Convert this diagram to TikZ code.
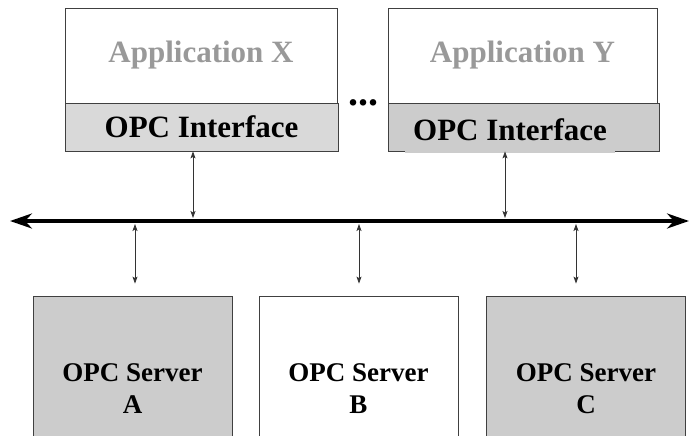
\documentclass[tikz,border=0pt]{standalone}
\usepackage{fontspec}
\setmainfont{Liberation Serif}
\usetikzlibrary{arrows,arrows.meta}
\tikzset{
  box/.style = {rectangle, draw=black!75, line width=0.8pt, inner sep=0pt},
  app/.style = {box, fill=white, text=black!40, minimum width=272pt,
    minimum height=95pt, font=\bfseries\fontsize{31}{33}\selectfont},% application, grey text
  ifc/.style = {box, minimum width=273pt, minimum height=48pt,
    font=\bfseries\fontsize{31}{33}\selectfont},% OPC interface strip
  srv/.style = {box, align=center, minimum width=199pt, minimum height=186pt,
    font=\bfseries\fontsize{27}{32}\selectfont},% OPC server box
  link/.style = {draw=black!80, line width=0.8pt},% small double arrow
  bus/.style = {line width=4pt,
    {Stealth[length=22pt,width=15pt]}-{Stealth[length=22pt,width=15pt]}}% thick bus line
}

\begin{document}
\begin{tikzpicture}[<->,>={Stealth[length=7pt,width=5pt,inset=1.5pt]},x=1pt,y=-1pt]
\useasboundingbox (0,0) rectangle (691,436);
\clip (0,0) rectangle (691,436);
% applications
\node [app] (appx) at (201,55.5) {Application X};
\node [app, minimum width=269pt] (appy) at (522.5,55.5) {Application Y};
\node [ifc, fill=gray!30] (ifcx) at (201.5,127) {OPC Interface};
\node [ifc, fill=gray!40, minimum width=271pt] (ifcy) at (523.5,127) {};
\node [fill=gray!40, inner sep=0pt, minimum width=210pt, minimum height=46pt,
  font=\bfseries\fontsize{31}{33}\selectfont] (lbly) at (510,130) {OPC Interface};
\node [anchor=base, font=\bfseries\fontsize{40}{40}\selectfont] (dots) at (363,105) {...};
% servers
\node [srv, fill=gray!40] (sa) at (132.5,389) {OPC Server\\A};
\node [srv, fill=white] (sb) at (358.5,389) {OPC Server\\B};
\node [srv, fill=gray!40] (sc) at (586,389) {OPC Server\\C};
% bus
\coordinate (busl) at (10,221);
\coordinate (busr) at (689,221);
\draw [bus] (busl) -- (busr);
\coordinate (tx) at (193,218);
\coordinate (ty) at (505,218);
\coordinate (ba) at (135,224);
\coordinate (bb) at (359,224);
\coordinate (bc) at (576,224);
\draw [link] (ifcx.south -| tx) -- (tx);
\draw [link] (ifcy.south -| ty) -- (ty);
\draw [link] (ba) -- ([yshift=12pt]sa.north -| ba);
\draw [link] (bb) -- ([yshift=12pt]sb.north -| bb);
\draw [link] (bc) -- ([yshift=12pt]sc.north -| bc);
\end{tikzpicture}
\end{document}
